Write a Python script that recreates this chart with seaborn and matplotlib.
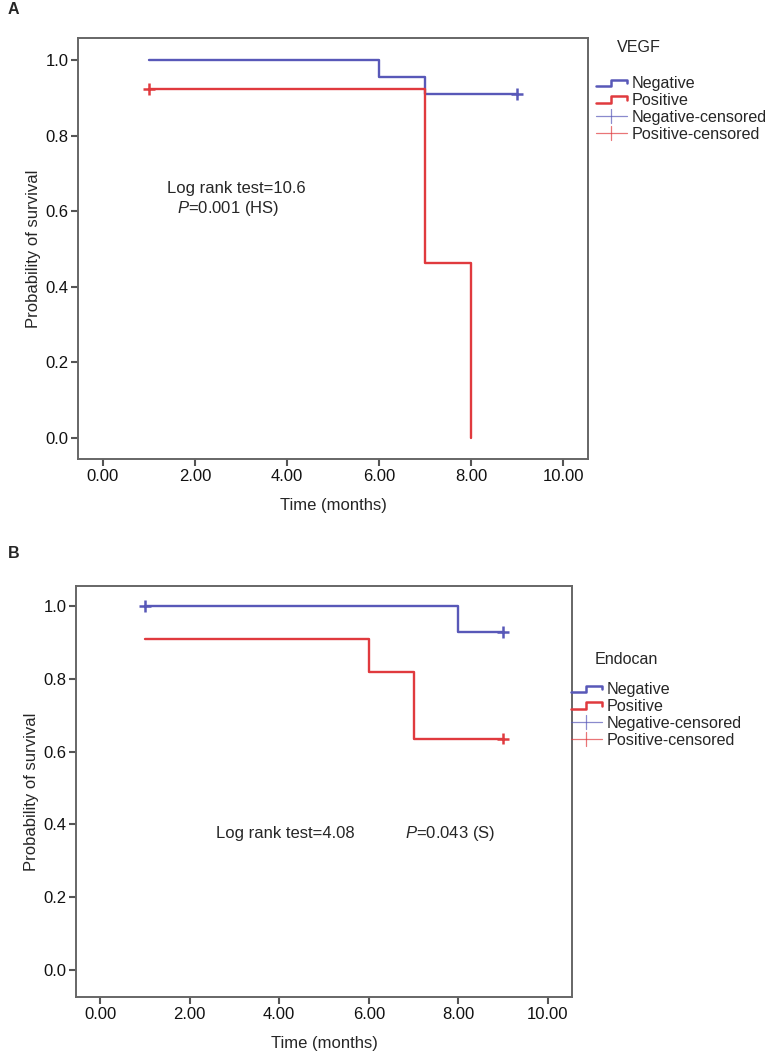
import numpy as np
import pandas as pd
import seaborn as sns
import matplotlib.pyplot as plt
from matplotlib.lines import Line2D
from matplotlib.legend_handler import HandlerBase

# panel A - VEGF
a_neg_t = [1, 6, 7, 9]
a_neg_s = [1.0, 0.955, 0.909, 0.909]
a_pos_t = [1, 7, 8]
a_pos_s = [0.923, 0.462, 0.0]
a_cens_t = [9, 1]
a_cens_s = [0.909, 0.923]
a_cens_g = ["Negative", "Positive"]

# panel B - Endocan
b_neg_t = [1, 8, 9]
b_neg_s = [1.0, 0.929, 0.929]
b_pos_t = [1, 6, 7, 9]
b_pos_s = [0.909, 0.818, 0.636, 0.636]
b_cens_t = [1, 9, 9]
b_cens_s = [1.0, 0.929, 0.636]
b_cens_g = ["Negative", "Negative", "Positive"]

xticks = [0, 2, 4, 6, 8, 10]
yticks = [0.0, 0.2, 0.4, 0.6, 0.8, 1.0]
labels = ["Negative", "Positive", "Negative-censored", "Positive-censored"]

sns.set_style("white")
plt.rcParams["font.family"] = ["Liberation Sans", "DejaVu Sans"]
plt.rcParams["mathtext.fontset"] = "custom"
plt.rcParams["mathtext.rm"] = "Liberation Sans"
plt.rcParams["mathtext.it"] = "Liberation Sans:italic"

BLUE = "#5858b8"
RED = "#e03a3e"
pal = {"Negative": BLUE, "Positive": RED}
FS = 12
LFS = 11.6


class StepHandler(HandlerBase):
    def create_artists(self, legend, orig_handle, xd, yd, w, h, fontsize, trans):
        x = np.array([0, 0.5, 0.5, 1.0, 1.0]) * w - xd
        y = np.array([0.15, 0.15, 0.75, 0.75, 0.45]) * h - yd
        ln = Line2D(x, y, color=orig_handle.get_color(), lw=1.8, transform=trans)
        return [ln]


class CensHandler(HandlerBase):
    def create_artists(self, legend, orig_handle, xd, yd, w, h, fontsize, trans):
        ln = Line2D([-xd, w - xd], [h / 2 - yd] * 2, color=orig_handle.get_color(),
                    lw=0.9, alpha=0.7, transform=trans)
        tk = Line2D([w / 2 - xd] * 2, [-0.1 * h - yd, 1.1 * h - yd],
                    color=orig_handle.get_color(), lw=0.9, alpha=0.7, transform=trans)
        return [ln, tk]


def panel(ax, neg_t, neg_s, pos_t, pos_s, cens_t, cens_s, cens_g, ylim):
    df = pd.concat([
        pd.DataFrame({"t": neg_t, "s": neg_s, "g": "Negative"}),
        pd.DataFrame({"t": pos_t, "s": pos_s, "g": "Positive"}),
    ])
    sns.lineplot(data=df, x="t", y="s", hue="g", palette=pal, drawstyle="steps-post",
                 estimator=None, lw=1.7, legend=False, ax=ax)
    cdf = pd.DataFrame({"t": cens_t, "s": cens_s, "g": cens_g})
    sns.scatterplot(data=cdf, x="t", y="s", hue="g", palette=pal, marker="+", s=70,
                    linewidth=1.8, legend=False, ax=ax, zorder=3)
    ax.set_xlim(-0.54, 10.54)
    ax.set_ylim(*ylim)
    ax.set_xticks(xticks)
    ax.set_xticklabels([f"{v:.2f}" for v in xticks])
    ax.set_yticks(yticks)
    ax.set_yticklabels([f"{v:.1f}" for v in yticks])
    ax.tick_params(axis="both", which="both", direction="out", length=5, width=1.5,
                   color="#555555", labelsize=FS, labelcolor="#111111", pad=2,
                   bottom=True, left=True)
    for sp in ax.spines.values():
        sp.set_color("#666666")
        sp.set_linewidth(1.4)
    ax.set_xlabel("Time (months)", fontsize=FS, labelpad=10)
    ax.set_ylabel("Probability of survival", fontsize=FS, labelpad=3)


def add_legend(fig, title, tx, ty, lx, ly):
    fig.text(tx, ty, title, fontsize=LFS, ha="left", va="center")
    hs = [Line2D([], [], color=BLUE), Line2D([], [], color=RED),
          Line2D([], [], color=BLUE, marker="+"), Line2D([], [], color=RED, marker="+")]
    hmap = {hs[0]: StepHandler(), hs[1]: StepHandler(), hs[2]: CensHandler(), hs[3]: CensHandler()}
    fig.legend(hs, labels, handler_map=hmap, loc="upper left", bbox_to_anchor=(lx, ly),
               bbox_transform=fig.transFigure, frameon=False, fontsize=LFS,
               handlelength=1.9, handletextpad=0.3, labelspacing=0.12, borderpad=0,
               borderaxespad=0)


fig = plt.figure(figsize=(7.7, 10.52), dpi=100)
W, H = 770, 1052
axA = fig.add_axes([78 / W, 1 - 459 / H, (588 - 78) / W, (459 - 38) / H])
axB = fig.add_axes([76 / W, 1 - 997 / H, (572 - 76) / W, (997 - 586) / H])

panel(axA, a_neg_t, a_neg_s, a_pos_t, a_pos_s, a_cens_t, a_cens_s, a_cens_g, (-0.056, 1.058))
panel(axB, b_neg_t, b_neg_s, b_pos_t, b_pos_s, b_cens_t, b_cens_s, b_cens_g, (-0.074, 1.055))

axA.text(1.39, 0.661, "Log rank test=10.6", fontsize=FS, ha="left", va="center")
axA.text(1.62, 0.608, r"$\it{P}$=0.001 (HS)", fontsize=FS, ha="left", va="center")
axB.text(2.58, 0.375, "Log rank test=4.08", fontsize=FS, ha="left", va="center")
axB.text(6.8, 0.375, r"$\it{P}$=0.043 (S)", fontsize=FS, ha="left", va="center")

add_legend(fig, "VEGF", 617 / W, 1 - 48 / H, 596 / W, 1 - 76 / H)
add_legend(fig, "Endocan", 595 / W, 1 - 659 / H, 571 / W, 1 - 682 / H)

fig.text(8 / W, 1 - 10 / H, "A", fontsize=11.5, fontweight="bold", ha="left", va="center")
fig.text(8 / W, 1 - 553 / H, "B", fontsize=11.5, fontweight="bold", ha="left", va="center")

fig.savefig("out.png", dpi=100, facecolor="white")
